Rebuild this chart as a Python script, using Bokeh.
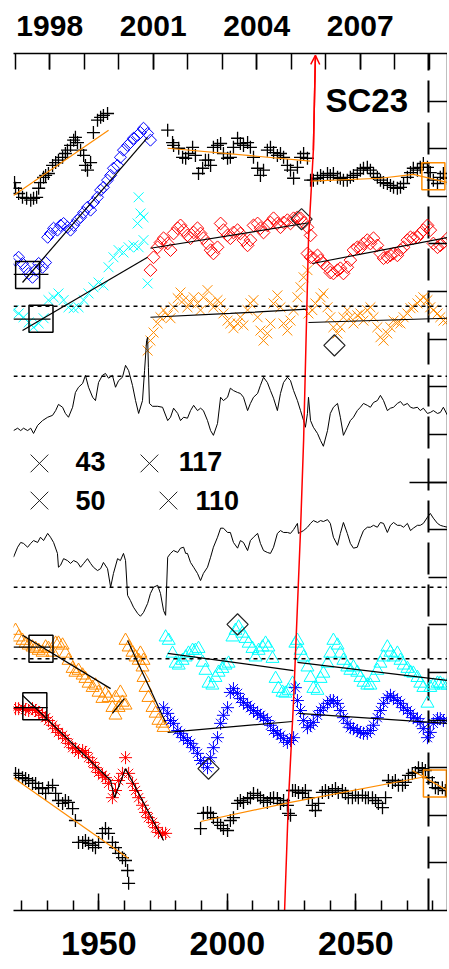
import numpy as np
from bokeh.plotting import figure
from bokeh.models import Range1d, LinearAxis, FixedTicker, Arrow, OpenHead, Span
from bokeh.core.properties import value
from bokeh.embed import file_html
from bokeh.resources import INLINE

# ---------------- data (years on the bottom scale, y in panel units 0..18) ----------------
a1_x = [1917.2,1917.6,1918.8,1920.3,1921.9,1923.5,1924.6,1925.8,1926.6,1927.3,1928.5,1929.3,1930.4,1932.0,1933.2,1934.3,1935.9,1937.0,1937.8,1939.0,1940.2,1940.9,1941.7,1942.9,1944.1,1944.8,1945.6,1946.8,1947.9,1949.5,1950.7,1951.8,1953.4]
a1_y = [15.29,15.17,15.06,14.98,14.96,14.92,14.96,14.98,15.17,15.29,15.40,15.44,15.48,15.65,15.71,15.76,15.82,15.90,15.97,16.07,16.18,16.24,16.13,15.97,15.86,15.65,15.55,15.71,16.34,16.60,16.66,16.70,16.74]

a2_x = [1917.6,1918.8,1920.3,1921.5,1922.7,1924.2,1925.4,1926.6,1928.1,1929.3,1930.1,1931.2,1932.4,1933.9,1935.1,1936.3,1937.8,1939.0,1940.2,1941.7,1942.9,1944.1,1945.6,1946.8,1947.9,1949.5,1950.7,1951.8,1953.4,1954.6,1955.7,1957.3,1958.4,1959.6,1961.2,1962.3,1963.5,1965.1,1966.2,1967.4,1969.0,1970.1]
a2_y = [13.66,13.72,13.59,13.49,13.38,13.30,13.45,13.59,13.51,13.61,14.14,14.22,14.33,14.29,14.39,14.43,14.35,14.29,14.39,14.50,14.56,14.66,14.77,14.71,14.87,14.98,15.13,15.19,15.34,15.44,15.59,15.65,15.82,15.97,16.07,16.13,16.22,16.28,16.34,16.43,16.32,16.18]

a3_x = [1916.8,1918.8,1920.7,1922.7,1924.6,1926.6,1928.5,1930.4,1932.4,1934.3,1936.3,1938.2,1940.2,1942.1,1944.1,1946.0,1947.9,1949.9,1951.8,1953.8,1955.7,1957.7,1959.6,1961.6,1963.5,1965.5,1967.4,1969.0,1965.5,1966.2,1965.1,1967.4]
a3_y = [12.61,12.54,12.46,12.35,12.25,12.33,12.44,12.82,12.88,12.96,12.82,12.67,12.65,12.67,12.82,12.96,13.09,13.19,13.13,13.51,13.72,13.87,13.82,13.93,13.97,13.93,14.08,13.17,14.98,14.64,14.43,14.56]

b1_x = [1976.8,1978.7,1979.1,1981.1,1982.6,1983.8,1984.9,1986.5,1987.6,1988.8,1990.4,1991.5,1992.7,1993.5,1994.6,1996.2,1997.4,1998.5,2000.1,2001.2,2002.4,2004.0,2005.1,2006.3,2007.9,2009.0,2010.2,2011.8,2012.9,2014.1,2015.6,2016.8,2018.0,2019.5,2020.7,2021.9,2023.4,2024.6,2025.8,2027.3,2028.5,2029.7,2031.2]
b1_y = [16.39,16.13,16.07,16.01,15.82,15.80,15.90,16.03,15.86,15.48,15.59,15.76,15.76,15.65,16.03,16.07,16.11,15.90,15.80,15.82,16.03,16.22,16.11,16.07,16.13,16.03,15.82,15.59,15.44,15.55,15.97,16.03,15.92,15.86,15.90,15.82,15.65,15.55,15.38,15.61,15.82,15.90,15.80]

b2_x = [1970.1,1971.3,1972.9,1974.0,1975.2,1976.8,1977.9,1979.1,1980.7,1981.8,1983.0,1984.5,1985.7,1986.9,1988.4,1989.6,1990.7,1992.3,1993.5,1994.6,1996.2,1997.4,1998.5,2000.1,2001.2,2002.4,2004.0,2005.1,2006.3,2007.9,2009.0,2010.2,2011.8,2012.9,2014.1,2015.6,2016.8,2018.0,2019.5,2020.7,2021.9,2023.4,2024.6,2025.8,2027.3,2028.5,2029.7,2031.2,2032.4]
b2_y = [13.45,13.72,13.93,14.03,14.12,14.01,13.87,14.22,14.33,14.39,14.29,14.18,14.12,14.24,14.33,14.22,14.12,14.01,13.87,13.80,13.93,14.43,14.29,14.18,14.12,14.24,14.29,14.22,14.08,13.97,14.08,14.39,14.43,14.33,14.24,14.39,14.45,14.54,14.43,14.35,14.45,14.50,14.43,14.54,14.56,14.54,14.45,14.35,14.18]

b3_x = [1969.0,1970.1,1971.3,1972.9,1974.0,1975.2,1976.8,1977.9,1979.1,1980.7,1981.8,1983.0,1984.5,1985.7,1986.9,1988.4,1989.6,1990.7,1992.3,1993.5,1994.6,1996.2,1997.4,1998.5,2000.1,2001.2,2002.4,2004.0,2005.1,2006.3,2007.9,2009.0,2010.2,2011.8,2012.9,2014.1,2015.6,2016.8,2018.0,2019.5,2020.7,2021.9,2023.4,2024.6,2025.8,2027.3,2028.5,2029.7,2031.2]
b3_y = [11.76,11.97,12.14,12.33,12.46,12.61,12.50,12.44,12.67,12.86,12.98,12.82,12.67,12.77,12.88,12.75,12.61,12.88,13.03,12.77,12.67,12.82,12.75,12.54,12.39,12.33,12.23,12.33,12.46,12.29,12.61,12.75,12.82,12.46,12.18,11.97,12.12,12.33,12.75,12.92,12.67,12.33,12.18,12.39,12.61,12.88,13.09,13.30,13.45]

c1_x = [2032.4,2033.5,2035.1,2036.3,2037.4,2039.0,2040.1,2041.3,2042.9,2044.0,2045.2,2046.7,2047.9,2049.1,2050.6,2051.8,2053.0,2054.5,2055.7,2056.9,2058.4,2059.6,2060.8,2062.3,2063.5,2064.7,2066.2,2067.4,2068.6,2070.1,2071.3,2072.4,2074.0,2075.1,2076.3,2077.9,2079.0,2080.2,2081.8,2082.9,2084.1,2085.7]
c1_y = [15.34,15.34,15.38,15.44,15.40,15.48,15.44,15.48,15.40,15.38,15.34,15.34,15.40,15.44,15.48,15.55,15.59,15.61,15.55,15.48,15.40,15.34,15.29,15.27,15.23,15.19,15.17,15.19,15.27,15.40,15.50,15.59,15.55,15.61,15.69,15.61,15.50,15.34,15.27,15.40,15.48,15.38]

c2_x = [2031.2,2032.4,2033.5,2035.1,2036.3,2037.4,2039.0,2040.1,2041.3,2042.9,2044.0,2045.2,2046.7,2047.9,2049.1,2050.6,2051.8,2053.0,2054.5,2055.7,2056.9,2058.4,2059.6,2060.8,2062.3,2063.5,2064.7,2066.2,2067.4,2068.6,2070.1,2071.3,2072.4,2074.0,2075.1,2076.3,2077.9,2079.0,2080.2,2081.8,2082.9,2084.1,2085.7]
c2_y = [13.80,13.72,13.70,13.76,13.66,13.59,13.51,13.40,13.38,13.45,13.49,13.38,13.51,13.66,13.87,13.93,13.91,14.01,14.08,14.01,14.12,13.97,13.80,13.70,13.72,13.76,13.80,13.76,13.87,13.93,14.08,14.14,14.12,14.14,14.22,14.29,14.39,14.29,14.01,13.93,13.97,14.03,14.12]

c3_x = [2031.6,2033.1,2034.3,2036.3,2037.4,2039.0,2040.1,2041.3,2042.9,2044.0,2045.2,2046.7,2047.9,2049.1,2050.6,2051.8,2053.0,2054.5,2055.7,2056.9,2058.4,2059.6,2060.8,2062.3,2063.5,2064.7,2066.2,2067.4,2068.6,2070.1,2071.3,2072.4,2074.0,2075.1,2076.3,2077.9,2079.0,2080.2,2081.8,2082.9,2084.1,2085.7]
c3_y = [12.54,12.61,12.75,12.88,12.96,12.67,12.46,12.25,12.12,12.25,12.46,12.61,12.46,12.33,12.50,12.54,12.39,12.61,12.67,12.46,12.25,12.04,11.97,12.12,12.25,12.39,12.35,12.33,12.46,12.54,12.65,12.67,12.75,12.82,12.88,12.82,12.67,12.61,12.54,12.46,12.39,12.39]

l1_x = [1916.8,1918.4,1919.6,1920.7,1922.3,1923.5,1924.6,1926.2,1928.1,1930.1,1932.0,1933.2,1934.3,1935.9,1937.0,1938.2,1939.8,1940.9,1942.1,1943.7,1944.8,1946.0,1947.6,1948.7,1949.9,1951.4,1952.6,1953.8,1955.3,1956.5,1957.7,1959.2,1960.4,1961.6,1963.1,1964.3,1965.5,1967.0,1967.8,1968.6,1969.0,1969.3,1969.7,1970.9,1972.9,1974.8,1976.8,1977.9,1979.1,1980.7,1981.8,1983.0,1984.5,1985.7,1986.9,1988.4,1989.6,1990.7,1992.3,1993.5,1994.6,1996.2,1997.4,1998.5,2000.1,2001.2,2002.4,2004.0,2005.1,2006.3,2007.9,2009.0,2010.2,2011.8,2012.9,2014.1,2015.6,2016.8,2018.0,2019.5,2020.7,2021.9,2023.4,2024.6,2025.8,2027.3,2028.5,2029.7,2030.4,2031.2,2031.6,2032.4,2033.5,2035.1,2036.3,2037.4,2039.0,2040.1,2041.3,2042.9,2044.0,2045.2,2046.7,2047.9,2049.1,2050.6,2051.8,2053.0,2054.5,2055.7,2056.9,2058.4,2059.6,2060.8,2062.3,2063.5,2064.7,2066.2,2067.4,2068.6,2070.1,2071.3,2072.4,2074.0,2075.1,2076.3,2077.9,2079.0,2080.2,2081.8,2082.9,2084.1,2085.7]
l1_y = [10.08,10.13,10.08,10.13,10.08,10.13,10.02,10.19,10.29,10.36,10.40,10.50,10.63,10.57,10.44,10.36,10.57,10.88,10.99,11.07,11.24,10.99,10.78,10.71,11.09,11.24,11.28,11.18,11.24,10.99,11.13,11.20,11.45,11.34,11.03,10.71,10.44,10.71,11.34,11.97,12.04,11.41,10.65,10.59,10.59,10.57,10.29,10.36,10.55,10.44,10.29,10.36,10.34,10.50,10.61,10.50,10.55,10.50,10.29,10.08,9.98,10.23,10.78,10.71,10.78,10.97,10.92,10.88,10.86,10.78,10.50,10.65,10.78,10.86,11.03,11.20,11.09,10.92,10.76,10.50,10.86,11.09,11.20,11.13,10.92,10.71,10.50,10.29,10.15,10.44,10.78,10.29,10.15,10.02,9.87,9.75,10.08,10.44,10.57,10.65,10.36,9.98,10.15,10.29,10.36,10.50,10.57,10.65,10.61,10.57,10.67,10.71,10.82,10.71,10.50,10.55,10.57,10.65,10.69,10.61,10.65,10.57,10.55,10.57,10.50,10.55,10.44,10.46,10.50,10.44,10.46,10.57,10.40]

l2_x = [1916.8,1918.4,1919.6,1920.7,1922.3,1923.5,1924.6,1926.2,1927.3,1928.5,1930.1,1931.2,1932.4,1933.9,1934.3,1935.1,1936.3,1937.8,1939.0,1940.2,1941.7,1942.9,1944.1,1945.6,1946.8,1947.9,1949.5,1950.7,1951.8,1953.4,1954.6,1955.7,1957.3,1958.4,1959.6,1960.4,1961.2,1962.3,1963.5,1965.1,1966.2,1967.4,1969.0,1970.1,1971.3,1972.9,1974.0,1975.2,1976.0,1976.8,1977.9,1979.1,1980.7,1981.8,1983.0,1983.8,1984.5,1985.7,1986.9,1988.4,1989.6,1990.7,1992.3,1993.5,1994.6,1996.2,1997.4,1998.5,2000.1,2001.2,2002.4,2004.0,2005.1,2006.3,2007.9,2009.0,2010.2,2011.8,2012.9,2014.1,2015.6,2016.8,2018.0,2019.5,2020.7,2021.9,2023.4,2024.6,2025.8,2027.3,2027.7,2029.7,2031.2,2032.4,2033.5,2035.1,2036.3,2037.4,2039.0,2040.1,2041.3,2042.9,2044.0,2045.2,2046.7,2047.9,2049.1,2050.6,2051.8,2053.0,2054.5,2055.7,2056.9,2058.4,2059.6,2060.8,2062.3,2063.5,2064.7,2066.2,2067.4,2068.6,2070.1,2071.3,2072.4,2074.0,2075.1,2076.3,2077.9,2079.0,2080.2,2081.8,2082.9,2084.1,2085.7]
l2_y = [7.42,7.63,7.73,7.71,7.63,7.71,7.77,7.73,7.84,7.77,7.92,7.84,7.73,7.50,7.21,7.25,7.39,7.35,7.29,7.35,7.31,7.21,7.29,7.39,7.29,7.21,7.14,7.18,7.31,7.18,6.79,7.08,7.39,7.35,7.50,7.35,6.62,6.51,6.37,6.24,6.18,6.26,6.45,6.66,6.79,6.83,6.66,6.30,6.20,7.42,7.50,7.56,7.52,7.61,7.63,7.50,7.50,7.31,7.21,7.08,6.93,7.08,7.21,7.42,7.63,7.84,8.03,8.03,7.94,7.94,7.73,7.61,7.77,7.73,7.56,7.77,7.84,7.92,7.71,7.56,7.52,7.50,7.63,7.92,7.98,7.94,7.94,7.92,8.00,8.13,7.92,7.98,8.05,8.13,8.19,8.15,8.19,8.17,8.21,8.13,7.84,7.67,7.92,8.15,7.92,7.71,7.61,7.63,7.82,7.98,8.05,8.05,8.09,8.05,8.15,8.13,7.94,8.09,8.15,8.09,8.09,8.05,8.13,7.98,8.03,8.09,8.09,8.13,8.26,8.34,8.24,8.13,8.09,8.07,8.05]

d1_x = [1917.6,1918.8,1920.3,1921.5,1922.7,1924.2,1925.4,1926.6,1928.1,1929.3,1930.4,1932.0,1933.2,1934.3,1935.9,1937.0,1938.2,1939.8,1940.9,1942.1,1943.7,1944.8,1946.0,1947.6,1948.7,1949.9,1951.4,1952.6,1953.8,1955.3,1956.5,1957.7,1959.2,1960.4,1956.5,1958.4]
d1_y = [5.88,5.74,5.67,5.61,5.57,5.53,5.50,5.46,5.42,5.53,5.50,5.42,5.61,5.61,5.57,5.40,5.25,5.08,5.00,5.04,4.94,4.87,4.77,4.68,4.73,4.58,4.45,4.56,4.47,4.26,4.10,4.26,4.37,4.31,4.47,4.58]

d2_x = [1960.4,1961.6,1963.1,1964.3,1965.5,1966.2,1967.0,1967.4,1967.4,1968.2,1969.3,1970.9,1972.1,1973.2,1974.8,1975.2]
d2_y = [5.67,5.53,5.42,5.32,5.25,5.40,5.11,5.25,4.89,4.68,4.47,4.26,4.14,3.99,3.93,3.84]

d3_x = [1917.6,1918.8,1920.3,1921.5,1922.7,1924.2,1925.4,1926.6,1928.1,1929.3,1930.4,1932.0,1933.2,1934.3,1935.9,1937.0,1938.2,1939.8,1940.9,1942.1,1943.7,1944.8,1946.0,1947.6,1948.7,1949.9,1951.4,1952.6,1953.8,1955.3,1956.5,1957.7,1959.2,1960.4,1961.6,1963.1,1964.3,1965.5,1967.0,1968.2,1969.3,1970.9,1972.1,1973.2,1974.8,1976.0]
d3_y = [4.24,4.24,4.26,4.22,4.20,4.24,4.20,4.16,4.10,4.05,3.99,3.89,3.82,3.74,3.68,3.61,3.51,3.42,3.40,3.32,3.36,3.32,3.21,3.11,3.00,2.90,2.84,2.79,2.67,2.37,2.52,2.73,2.88,3.21,2.88,2.67,2.52,2.37,2.21,2.06,1.95,1.85,1.74,1.64,1.62,1.62]

d4_x = [1976.0,1977.2,1978.7,1979.9,1981.1,1982.6,1983.8,1984.9,1986.5,1987.6,1988.8,1990.4,1991.5,1992.7,1994.2,1995.4,1996.6,1998.1,1999.3,2000.5,2002.0,2003.2,2004.4,2005.9,2007.1,2008.3,2009.8,2011.0,2012.2,2013.7,2014.9,2016.0,2017.6,2018.8,2019.9,2021.5,2022.6,2023.8,2025.4,2026.5,2027.3,2028.5,2029.7,2031.2,2032.4,2033.5,2035.1,2036.3,2037.4,2039.0,2040.1,2041.3,2042.9,2044.0,2045.2,2046.7,2047.9,2049.1,2050.6,2051.8,2053.0,2054.5,2055.7,2056.9,2058.4,2059.6,2060.8,2062.3,2063.5,2064.7,2066.2,2067.4,2068.6,2070.1,2071.3,2072.4,2074.0,2075.1,2076.3,2077.9,2079.0,2080.2,2081.8,2082.9,2084.1,2085.7]
d4_y = [5.74,5.67,5.40,5.19,5.15,5.25,5.32,5.40,5.46,5.46,5.50,5.21,5.04,4.77,4.73,4.89,5.00,5.08,5.15,5.19,5.74,5.88,5.95,5.82,5.71,5.61,5.50,5.32,5.46,5.53,5.61,5.53,5.29,4.87,4.66,4.58,4.56,4.62,4.77,5.61,5.67,5.46,5.32,5.11,4.89,4.66,4.62,4.87,4.98,5.19,5.40,5.67,5.57,5.40,5.25,5.11,5.04,5.11,5.00,4.89,4.79,4.73,4.73,4.89,5.04,5.19,5.32,5.53,5.42,5.32,5.40,5.25,5.15,5.08,5.00,4.98,4.89,4.77,4.68,4.35,4.68,4.73,4.77,4.77,4.73,4.73]

d5_x = [1975.2,1976.8,1977.9,1979.1,1980.7,1981.8,1983.0,1984.5,1985.7,1986.9,1988.4,1989.6,1990.7,1992.3,1993.5,1994.6,1996.2,1997.4,1998.5,2000.1,2001.2,2002.4,2004.0,2005.1,2006.3,2007.9,2009.0,2010.2,2011.8,2012.9,2014.1,2015.6,2016.8,2018.0,2019.5,2020.7,2021.9,2023.4,2024.6,2025.8,2026.5,2027.3,2028.5,2029.7,2031.2,2032.4,2033.5,2035.1,2036.3,2037.4,2039.0,2040.1,2041.3,2042.9,2044.0,2045.2,2046.7,2047.9,2049.1,2050.6,2051.8,2053.0,2054.5,2055.7,2056.9,2058.4,2059.6,2060.8,2062.3,2063.5,2064.7,2066.2,2067.4,2068.6,2070.1,2071.3,2072.4,2074.0,2075.1,2076.3,2077.9,2079.0,2080.2,2081.8,2082.9,2084.1,2085.7]
d5_y = [4.26,4.14,3.99,3.93,3.78,3.72,3.63,3.57,3.51,3.42,3.30,3.15,3.09,3.00,3.21,3.42,3.63,3.93,4.10,4.26,4.58,4.66,4.56,4.45,4.37,4.31,4.26,4.20,4.14,4.10,4.05,3.99,3.89,3.78,3.72,3.68,3.61,3.53,3.57,3.63,4.68,4.41,4.20,3.99,3.84,3.89,3.95,4.10,4.20,4.26,4.35,4.41,4.41,4.35,4.20,4.05,3.93,3.84,3.82,3.78,3.74,3.72,3.72,3.78,3.89,4.05,4.20,4.35,4.47,4.52,4.47,4.41,4.35,4.26,4.20,4.14,4.05,4.03,3.95,3.82,3.63,3.74,3.93,4.03,4.03,3.99,3.99]

e1_x = [1917.6,1918.8,1920.3,1921.5,1922.7,1924.2,1925.4,1926.6,1928.1,1929.3,1930.4,1932.0,1933.2,1934.3,1935.9,1937.0,1938.2,1939.8,1940.9,1942.1,1943.7,1944.8,1946.0,1947.6,1948.7,1949.9,1951.4,1952.6,1953.8,1955.3,1956.5,1957.7,1959.2,1960.4,1961.2,1961.6]
e1_y = [2.88,2.84,2.79,2.77,2.73,2.67,2.67,2.58,2.56,2.46,2.58,2.63,2.46,2.31,2.25,2.31,2.27,2.14,1.89,1.43,1.43,1.47,1.41,1.37,1.32,1.43,1.62,1.72,1.62,1.43,1.32,1.20,1.11,1.05,0.84,0.57]

e2_x = [1989.6,1990.7,1992.3,1993.5,1994.6,1996.2,1997.4,1998.5,2000.1,2001.2,2002.4,2004.0,2005.1,2006.3,2007.9,2009.0,2010.2,2011.8,2012.9,2014.1,2015.6,2016.8,2018.0,2019.5,2020.7,2021.9,2023.4,2023.8,2024.6,2025.4,2026.5,2027.7,2029.3,2030.4,2031.6,2033.1,2034.3,2035.5,2037.0,2038.2,2039.4,2040.9,2042.1,2043.2,2044.8,2046.0,2047.1,2048.7,2049.9,2051.0,2052.6,2053.8,2054.9,2056.5,2057.7,2058.8,2060.4,2061.6,2062.7,2064.3,2065.4,2066.6,2068.2,2069.3,2070.5,2072.0,2073.2,2074.4,2075.9,2077.1,2078.3,2079.8,2081.0,2082.1,2083.7,2084.9]
e2_y = [1.72,2.04,2.06,2.04,1.95,1.85,1.79,1.72,1.68,1.89,1.95,2.25,2.31,2.27,2.35,2.37,2.46,2.42,2.37,2.31,2.27,2.35,2.37,2.35,2.25,2.31,2.21,2.04,2.00,2.52,2.52,2.48,2.46,2.52,2.37,2.21,2.10,2.25,2.48,2.52,2.48,2.52,2.56,2.48,2.52,2.46,2.37,2.37,2.42,2.37,2.42,2.37,2.37,2.37,2.31,2.25,2.16,2.37,2.73,2.69,2.73,2.63,2.63,2.69,2.84,2.88,2.90,3.00,2.98,2.94,2.79,2.69,2.58,2.56,2.58,2.52]

# fitted trend lines (polylines)
orange_fit_xs = [[1916.8,1953.8],[1976.8,2032.4],[2032.4,2059.6,2072.4,2085.7],[1916.8,1961.6],[1989.6,2024.6,2077.9],[2072.0,2085.7]]
orange_fit_ys = [[15.02,16.39],[16.01,15.74],[15.32,15.38,15.46,15.29],[2.79,1.09],[1.87,2.27,2.82],[2.94,2.52]]
black_fit_xs = [[1920.3,1969.0],[1916.8,1930.4],[1920.3,1969.0],[1916.8,1931.2],[1970.1,2032.4],[1970.1,2001.2,2031.2],
                [2033.1,2086.1],[2031.6,2085.7],[1920.3,1954.6],[1955.3,1959.9],[1916.8,1931.2],[1961.2,1976.0],
                [1920.3,1954.6,1956.1,1960.4,1975.2],[1916.8,1930.1],[1976.8,2025.8],[2027.3,2085.7],[1976.8,2025.4],[2027.7,2085.7]]
black_fit_ys = [[13.19,16.24],[13.36,13.36],[12.18,13.72],[12.42,12.42],[13.91,14.45],[12.46,12.54,12.63],
                [13.59,14.14],[12.35,12.44],[5.78,4.66],[4.14,4.45],[5.53,5.53],[5.67,3.95],
                [4.52,2.73,2.37,2.98,1.47],[4.26,4.26],[5.40,5.04],[5.21,4.83],[3.74,3.97],[4.14,3.93]]

# reference boxes and highlighted points
black_box_x = [1922.3,1927.5,1927.5,1925.1]
black_box_y = [13.35,12.43,5.50,4.29]
orange_box_x = [2080.2,2080.8]
orange_box_y = [15.42,2.67]
hi_x = [2028.9,2041.7,2004.0,1992.7]
hi_y = [14.52,11.87,6.01,2.98]

ref_levels = [12.69, 11.22, 6.79, 5.29]
cycle_end = 2078.3
arrow_x = [2022.3,2023.8,2025.8,2028.5,2029.7,2031.6,2033.5,2034.3]
arrow_y = [0.0,2.31,4.41,7.98,9.87,14.08,15.97,17.96]

legend_x = [1926.9,1969.7,1926.9,1977.1]
legend_y = [9.39,9.39,8.61,8.61]
legend_tx = [1940.9,1981.1,1940.9,1987.6]
legend_ty = [9.43,9.43,8.62,8.62]
legend_text = ["43","117","50","110"]
cycle_label = "SC23"
cycle_label_x = 2038.2
cycle_label_y = 17.02

bottom_major = [1950, 2000, 2050]
bottom_minor = list(range(1920, 2081, 10))
top_major = [1998, 2001, 2004, 2007]
top_minor = list(range(1997, 2010))
right_major = [9]
right_minor = list(range(1, 18))

ORANGE = "#FF8C00"
FONT = "Liberation Sans"

p = figure(frame_width=434, frame_height=857,
           x_range=Range1d(1916.8, 2085.7), y_range=Range1d(0, 18),
           output_backend="svg", toolbar_location=None,
           y_axis_location="right")
p.extra_x_ranges = {"top": Range1d(1996.95, 2009.53)}
p.outline_line_color = None
p.grid.visible = False
p.background_fill_color = "white"
p.border_fill_color = "white"
p.min_border_left = 13
p.min_border_right = 0
p.min_border_top = 53
p.min_border_bottom = 58

xa = p.xaxis[0]
xa.ticker = FixedTicker(ticks=bottom_major, minor_ticks=bottom_minor)
xa.major_tick_in = 17
xa.major_tick_out = 0
xa.minor_tick_in = 10
xa.minor_tick_out = 0
xa.major_label_standoff = 21
xa.major_label_text_font = FONT
xa.major_label_text_font_style = "bold"
xa.major_label_text_font_size = "34px"
xa.major_label_text_color = "black"
xa.axis_line_width = 1.5
xa.major_tick_line_width = 1.5
xa.minor_tick_line_width = 1.5

ta = LinearAxis(x_range_name="top", ticker=FixedTicker(ticks=top_major, minor_ticks=top_minor))
ta.major_tick_in = 16
ta.major_tick_out = 0
ta.minor_tick_in = 16
ta.minor_tick_out = 0
ta.major_label_standoff = 18
ta.major_label_text_font = FONT
ta.major_label_text_font_style = "bold"
ta.major_label_text_font_size = "30px"
ta.major_label_text_color = "black"
ta.axis_line_width = 1.5
ta.major_tick_line_width = 1.5
ta.minor_tick_line_width = 1.5
p.add_layout(ta, "above")

ya = p.yaxis[0]
ya.ticker = FixedTicker(ticks=right_major, minor_ticks=right_minor)
ya.major_tick_in = 38
ya.major_tick_out = 0
ya.minor_tick_in = 19
ya.minor_tick_out = 0
ya.major_label_overrides = {9: ""}
ya.major_label_text_font_size = "1px"
ya.major_label_standoff = 0
ya.axis_line_width = 1.5
ya.major_tick_line_width = 1.5
ya.minor_tick_line_width = 1.5

# reference levels
for lv in ref_levels:
    p.add_layout(Span(location=lv, dimension="width", line_color="black", line_width=1.5, line_dash="4 4"))

p.line([cycle_end, cycle_end], [0, 18], line_color="black", line_width=2, line_dash="32 10")

# markers
p.scatter(a1_x, a1_y, marker="cross", size=13, line_color="black", line_width=1.3)
p.scatter(a2_x, a2_y, marker="square", angle=np.pi/4, size=8.5, fill_color=None, line_color="#0000FF", line_width=1)
p.scatter(a3_x, a3_y, marker="x", size=14, line_color="#00FFFF", line_width=1)
p.scatter(b1_x, b1_y, marker="cross", size=13, line_color="black", line_width=1.3)
p.scatter(b2_x, b2_y, marker="square", angle=np.pi/4, size=9, fill_color=None, line_color="#FF0000", line_width=1)
p.scatter(b3_x, b3_y, marker="x", size=14, line_color=ORANGE, line_width=1)
p.scatter(c1_x, c1_y, marker="cross", size=13, line_color="black", line_width=1.3)
p.scatter(c2_x, c2_y, marker="square", angle=np.pi/4, size=9, fill_color=None, line_color="#FF0000", line_width=1)
p.scatter(c3_x, c3_y, marker="x", size=14, line_color=ORANGE, line_width=1)
p.scatter(d1_x, d1_y, marker="triangle", size=13, fill_color=None, line_color=ORANGE, line_width=1)
p.scatter(d2_x, d2_y, marker="triangle", size=13, fill_color=None, line_color=ORANGE, line_width=1)
p.scatter(d3_x, d3_y, marker="asterisk", size=13, line_color="#FF0000", line_width=1)
p.scatter(d4_x, d4_y, marker="triangle", size=13, fill_color=None, line_color="#00FFFF", line_width=1)
p.scatter(d5_x, d5_y, marker="asterisk", size=13, line_color="#0000FF", line_width=1)
p.scatter(e1_x, e1_y, marker="cross", size=13, line_color="black", line_width=1.3)
p.scatter(e2_x, e2_y, marker="cross", size=13, line_color="black", line_width=1.3)

# series lines
p.line(l1_x, l1_y, line_color="black", line_width=1)
p.line(l2_x, l2_y, line_color="black", line_width=1)

# fits
p.multi_line(orange_fit_xs, orange_fit_ys, line_color=ORANGE, line_width=1.2)
p.multi_line(black_fit_xs, black_fit_ys, line_color="black", line_width=1.2)

# boxes and highlights
p.rect(black_box_x, black_box_y, width=24, height=27, width_units="screen", height_units="screen",
       fill_color=None, line_color="black", line_width=1.5)
p.rect(orange_box_x, orange_box_y, width=23, height=27, width_units="screen", height_units="screen",
       fill_color=None, line_color=ORANGE, line_width=1.5)
p.scatter(hi_x, hi_y, marker="square", angle=np.pi/4, size=15, fill_color=None, line_color="#222222", line_width=1.2)

# legend-like annotation
p.scatter(legend_x, legend_y, marker="x", size=25, line_color="#222222", line_width=1)
p.text(legend_tx, legend_ty, text=legend_text, text_font=value(FONT), text_font_style="bold",
       text_font_size="27px", text_baseline="middle", text_align="left", text_color="black")
p.text([cycle_label_x], [cycle_label_y], text=[cycle_label], text_font=value(FONT), text_font_style="bold",
       text_font_size="33px", text_baseline="middle", text_align="left", text_color="black")

# red arrow
p.line(arrow_x, arrow_y, line_color="#FF0000", line_width=1.5)
p.add_layout(Arrow(end=OpenHead(size=9, line_color="#FF0000", line_width=1.5),
                   x_start=arrow_x[-2], y_start=arrow_y[-2], x_end=arrow_x[-1], y_end=arrow_y[-1],
                   line_color="#FF0000", line_width=1.5))

open("out.html", "w").write(file_html(p, INLINE))
